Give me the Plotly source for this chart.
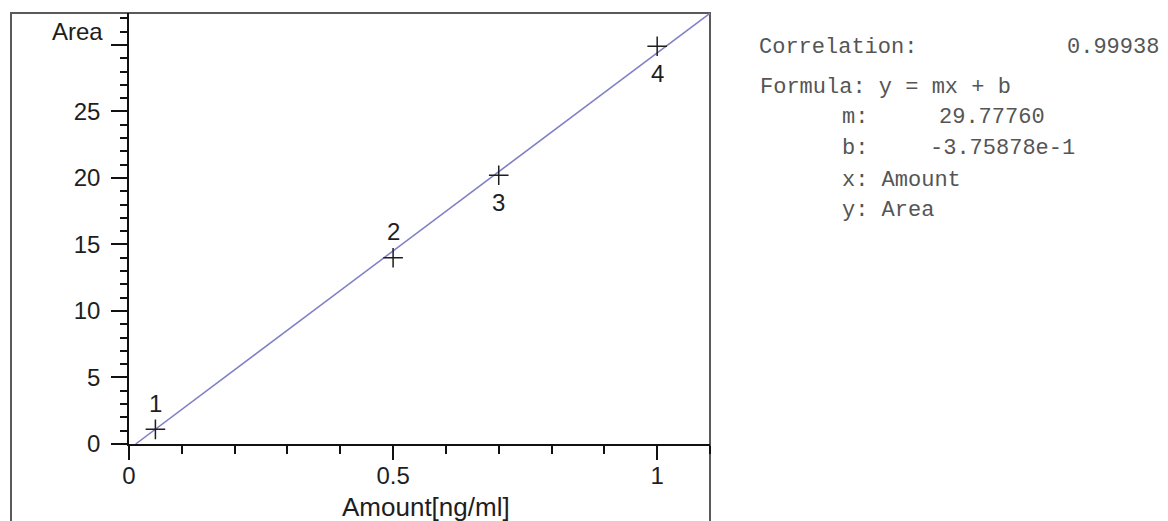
import plotly.graph_objects as go

# ---- data ----
amount = [0.05, 0.5, 0.7, 1.0]
area = [1.1, 14.0, 20.2, 29.9]
point_labels = ["1", "2", "3", "4"]
label_side = ["above", "above", "below", "below"]
slope = 29.77760
intercept = -0.375878
correlation = "0.99938"
x_range = [0, 1.1]
y_range = [0, 32.4]
x_tickvals = [0, 0.5, 1]
x_ticktext = ["0", "0.5", "1"]
y_tickvals = [0, 5, 10, 15, 20, 25, 30]
y_ticktext = ["0", "5", "10", "15", "20", "25", ""]

OFF = 8  # default page body margin
W, H = 1168 - OFF, 521 - OFF
# plot area edges in page pixels
L, R, T, B = 129, 710, 13, 444


def px(xp):
    return (xp - L) / (R - L)


def py(yp):
    return (B - yp) / (B - T)


SANS = "Liberation Sans, Arial, sans-serif"
MONO = "Liberation Mono, Courier New, monospace"
INK = "#1e1e1e"

fig = go.Figure()

# regression line
x0 = -intercept / slope
fit_x = [x0, x_range[1]]
fit_y = [slope * v + intercept for v in fit_x]
fig.add_trace(go.Scatter(x=fit_x, y=fit_y, mode="lines",
                         line=dict(color="#7f7fc6", width=1.5),
                         hoverinfo="skip", showlegend=False))

# calibration points
fig.add_trace(go.Scatter(x=amount, y=area, mode="markers",
                         marker=dict(symbol="cross-thin", size=14,
                                     line=dict(color=INK, width=1.5)),
                         showlegend=False))

annotations = []
for xv, yv, lab, side in zip(amount, area, point_labels, label_side):
    annotations.append(dict(x=xv, y=yv, xref="x", yref="y", text=lab,
                            showarrow=False, yshift=26 if side == "above" else -27,
                            font=dict(family=SANS, size=24, color=INK)))

# y-axis title placed at top-left
annotations.append(dict(x=px(105), y=py(31), xref="paper", yref="paper",
                        text="Area", showarrow=False, xanchor="right", yanchor="middle",
                        font=dict(family=SANS, size=24, color=INK)))

# x-axis title near the bottom edge
annotations.append(dict(x=px(426), y=py(507), xref="paper", yref="paper",
                        text="Amount[ng/ml]", showarrow=False,
                        xanchor="center", yanchor="middle",
                        font=dict(family=SANS, size=26, color=INK)))

# right-hand result panel
mono = dict(family=MONO, size=22, color="#555")
panel = [
    ("Correlation:", 757, 48),
    (correlation, 1065, 48),
    ("Formula: y = mx + b", 758, 87),
    ("m:", 840, 118),
    ("29.77760", 937, 118),
    ("b:", 840, 148),
    ("-3.75878e-1", 928, 148),
    ("x: Amount", 840, 180),
    ("y: Area", 840, 210),
]
for txt, xp, yp in panel:
    annotations.append(dict(x=px(xp), y=py(yp), xref="paper", yref="paper",
                            text=txt, showarrow=False, xanchor="left", yanchor="middle",
                            font=mono))

fig.update_layout(
    width=W, height=H,
    margin=dict(l=L - OFF, r=1168 - R, t=T - OFF, b=521 - B, pad=0, autoexpand=False),
    paper_bgcolor="white", plot_bgcolor="white",
    annotations=annotations,
    shapes=[dict(type="rect", xref="paper", yref="paper",
                 x0=px(11), x1=1, y0=py(540), y1=1,
                 line=dict(color="#5a5a5a", width=2), layer="below")],
    xaxis=dict(range=x_range, tickvals=x_tickvals, ticktext=x_ticktext,
               showgrid=False, zeroline=False, showline=True, automargin=False,
               linecolor="#111", linewidth=1.5,
               ticks="outside", ticklen=14, tickwidth=1.5, tickcolor="#111",
               minor=dict(dtick=0.1, ticks="outside", ticklen=8, tickwidth=1.5,
                          tickcolor="#111", showgrid=False),
               tickfont=dict(family=SANS, size=24, color=INK),
               ticklabelstandoff=-5),
    yaxis=dict(range=y_range, tickvals=y_tickvals, ticktext=y_ticktext,
               showgrid=False, zeroline=False, showline=True, automargin=False,
               linecolor="#111", linewidth=1.5,
               ticks="outside", ticklen=16, tickwidth=1.5, tickcolor="#111",
               minor=dict(dtick=1, ticks="outside", ticklen=7, tickwidth=1.5,
                          tickcolor="#111", showgrid=False),
               tickfont=dict(family=SANS, size=24, color=INK),
               ticklabelstandoff=6),
)

fig.write_html("out.html")
